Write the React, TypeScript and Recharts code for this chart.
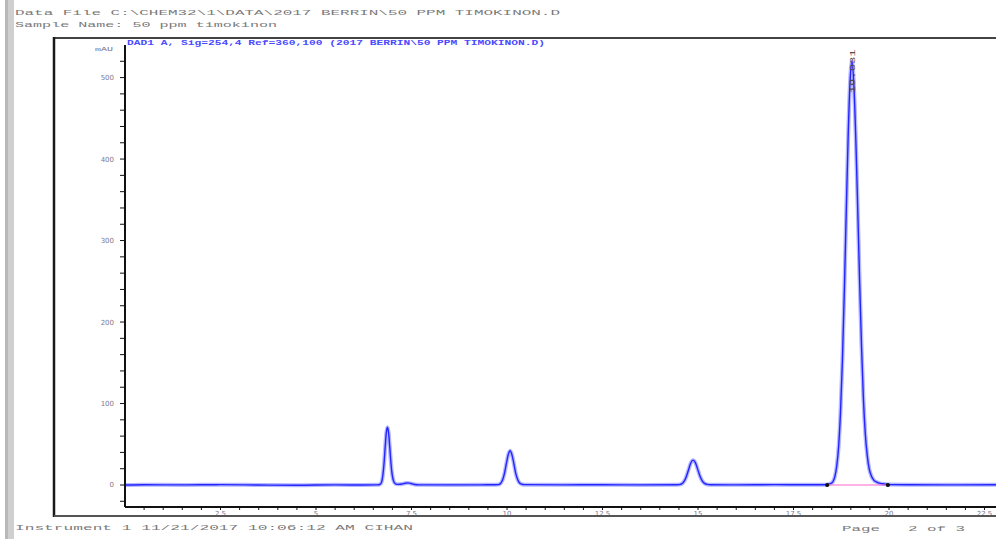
import React from "react";
import { LineChart, Line, XAxis, YAxis, ReferenceDot } from "recharts";

// Retention time (min) and absorbance (mAU)
const rtMin = [
  0, 0.5, 1.5, 2.5, 3.5, 4.5, 5.5, 6.2,
  6.6, 6.67, 6.72, 6.75, 6.78, 6.81, 6.84, 6.87, 6.9, 6.93, 6.96, 6.99, 7.03, 7.08, 7.15, 7.25, 7.33, 7.41, 7.49, 7.58, 7.7,
  8.5, 9.3,
  9.7, 9.78, 9.83, 9.88, 9.93, 9.98, 10.03, 10.08, 10.13, 10.18, 10.23, 10.28, 10.33, 10.38, 10.45,
  11.5, 12.5, 13.5,
  14.45, 14.51, 14.57, 14.63, 14.69, 14.75, 14.81, 14.87, 14.93, 14.99, 15.05, 15.11, 15.17, 15.24, 15.32,
  16.0, 17.0, 17.8,
  18.3, 18.4, 18.48, 18.53, 18.58, 18.63, 18.68, 18.73, 18.78, 18.83, 18.88, 18.93, 18.98, 19.03, 19.08, 19.13, 19.18,
  19.23, 19.28, 19.33, 19.38, 19.43, 19.48, 19.53, 19.6, 19.7, 19.82, 20.0,
  20.5, 21.5, 22.8,
];
const absMau = [
  0, 0.3, 0.1, 0.4, 0, -0.3, 0.2, 0,
  0.2, 0.6, 4, 12, 26, 46, 64, 71, 64, 47, 28, 14, 5, 1.5, 0.8, 1.2, 2.2, 2.6, 1.8, 0.6, 0.2,
  0.1, 0.2,
  0.3, 0.5, 1.8, 5.7, 13.6, 25.5, 37, 42, 37, 26, 14, 6.5, 2.5, 1, 0.4,
  0.2, 0.3, 0.1,
  0.3, 0.5, 1.3, 4.1, 9.9, 18.5, 27, 30.5, 27.5, 19.5, 11, 5, 2, 0.7, 0.3,
  0.2, 0.4, 0.3,
  0.3, 0.8, 2, 4, 10, 23, 47, 90, 153, 238, 335, 428, 495, 520, 490, 425, 340,
  250, 170, 105, 62, 36, 20, 12, 6, 3, 1.5, 0.5,
  0.3, 0.2, 0.3,
];

// Integration baseline of the main peak
const baseRt = [18.38, 19.97];
const baseMau = [0, 0];

// Apex label
const apexRt = 19.03;
const apexMau = 520;
const apexLabel = "19.031";

const yTicks = [
  -20, 0, 20, 40, 60, 80, 100, 120, 140, 160, 180, 200, 220, 240, 260, 280, 300,
  320, 340, 360, 380, 400, 420, 440, 460, 480, 500, 520,
];
const yLabels = ["0", "100", "200", "300", "400", "500"];
const xTicks = [
  0.5, 1, 1.5, 2, 2.5, 3, 3.5, 4, 4.5, 5, 5.5, 6, 6.5, 7, 7.5, 8, 8.5, 9, 9.5, 10,
  10.5, 11, 11.5, 12, 12.5, 13, 13.5, 14, 14.5, 15, 15.5, 16, 16.5, 17, 17.5, 18,
  18.5, 19, 19.5, 20, 20.5, 21, 21.5, 22, 22.5,
];
const xLabels = ["2.5", "5", "7.5", "10", "12.5", "15", "17.5", "20", "22.5"];

const signal = rtMin.map((t, i) => ({ t, v: absMau[i] }));
const baseline = baseRt.map((t, i) => ({ t, v: baseMau[i] }));

const MONO = "'Liberation Mono', 'DejaVu Sans Mono', monospace";
const TICK = { fontSize: 7, fill: "#7d7890", fontFamily: "'DejaVu Sans', sans-serif" };

const ApexText = (props: any) => {
  const { cx, cy } = props;
  if (cx == null || cy == null) return null;
  return (
    <text
      x={0}
      y={0}
      transform={`translate(${cx + 3}, ${cy + 32}) rotate(-90)`}
      fontSize={8}
      fontFamily={MONO}
      fill="#5a4848"
      textLength={44}
      lengthAdjust="spacingAndGlyphs"
    >
      {apexLabel}
    </text>
  );
};

export default function App() {
  return (
    <div
      style={{
        position: "absolute",
        left: 0,
        top: 0,
        width: 996,
        height: 539,
        background: "#fff",
        overflow: "hidden",
      }}
    >
      <LineChart
        width={996}
        height={539}
        data={signal}
        margin={{ top: 45, right: 0, bottom: 12, left: 75 }}
      >
        <XAxis
          type="number"
          dataKey="t"
          domain={[0, 22.8]}
          ticks={xTicks}
          interval={0}
          allowDataOverflow
          height={20}
          tickSize={3}
          tickMargin={1}
          axisLine={{ stroke: "#111", strokeWidth: 2 }}
          tickLine={{ stroke: "#111" }}
          tick={TICK}
          tickFormatter={(v: number) => (xLabels.includes(String(v)) ? String(v) : "")}
        />
        <YAxis
          type="number"
          domain={[-27, 540]}
          ticks={yTicks}
          interval={0}
          allowDataOverflow
          width={50}
          tickSize={5}
          tickMargin={6}
          axisLine={{ stroke: "#111", strokeWidth: 2 }}
          tickLine={{ stroke: "#111" }}
          tick={TICK}
          tickFormatter={(v: number) => (yLabels.includes(String(v)) ? String(v) : "")}
        />
        <Line
          dataKey="v"
          type="monotone"
          stroke="#b4b8ff"
          strokeWidth={4}
          dot={false}
          activeDot={false}
          isAnimationActive={false}
        />
        <Line
          dataKey="v"
          type="monotone"
          stroke="#2424ff"
          strokeWidth={1.4}
          dot={false}
          activeDot={false}
          isAnimationActive={false}
        />
        <Line
          data={baseline}
          dataKey="v"
          type="linear"
          stroke="#ff66cc"
          strokeWidth={1.2}
          dot={{ r: 1.5, fill: "#111", stroke: "#111" }}
          activeDot={false}
          isAnimationActive={false}
        />
        <ReferenceDot x={apexRt} y={apexMau} r={0} shape={ApexText} />
      </LineChart>

      <svg
        width={996}
        height={539}
        style={{ position: "absolute", left: 0, top: 0, pointerEvents: "none" }}
      >
        <rect x={5} y={0} width={9} height={539} fill="#cfcfcf" />
        <rect x={5} y={0} width={3} height={539} fill="#b8b8b8" />
        <line x1={54} y1={38} x2={996} y2={38} stroke="#444" strokeWidth={2} />
        <line x1={54} y1={37} x2={54} y2={517} stroke="#1a1a1a" strokeWidth={2.5} />
        <line x1={54} y1={516} x2={996} y2={516} stroke="#555" strokeWidth={2} />

        <text x={15} y={15} fontSize={8} fontFamily={MONO} fill="#7a7a7a"
          textLength={545} lengthAdjust="spacingAndGlyphs">
          Data File C:\CHEM32\1\DATA\2017 BERRIN\50 PPM TIMOKINON.D
        </text>
        <text x={15} y={27} fontSize={8} fontFamily={MONO} fill="#7a7a7a"
          textLength={262} lengthAdjust="spacingAndGlyphs">
          Sample Name: 50 ppm timokinon
        </text>
        <text x={127} y={45} fontSize={6.5} fontFamily={MONO} fill="#4a4aff" fontWeight="bold"
          textLength={418} lengthAdjust="spacingAndGlyphs">
          DAD1 A, Sig=254,4 Ref=360,100 (2017 BERRIN\50 PPM TIMOKINON.D)
        </text>
        <text x={95} y={51} fontSize={6} fontFamily={MONO} fill="#7a7088"
          textLength={18} lengthAdjust="spacingAndGlyphs">
          mAU
        </text>
        <text x={15} y={530} fontSize={8} fontFamily={MONO} fill="#7a7a7a"
          textLength={398} lengthAdjust="spacingAndGlyphs">
          Instrument 1 11/21/2017 10:06:12 AM CIHAN
        </text>
        <text x={842} y={531} fontSize={8} fontFamily={MONO} fill="#7a7a7a"
          textLength={38} lengthAdjust="spacingAndGlyphs">
          Page
        </text>
        <text x={908} y={531} fontSize={8} fontFamily={MONO} fill="#7a7a7a"
          textLength={57} lengthAdjust="spacingAndGlyphs">
          2 of 3
        </text>
      </svg>
    </div>
  );
}
